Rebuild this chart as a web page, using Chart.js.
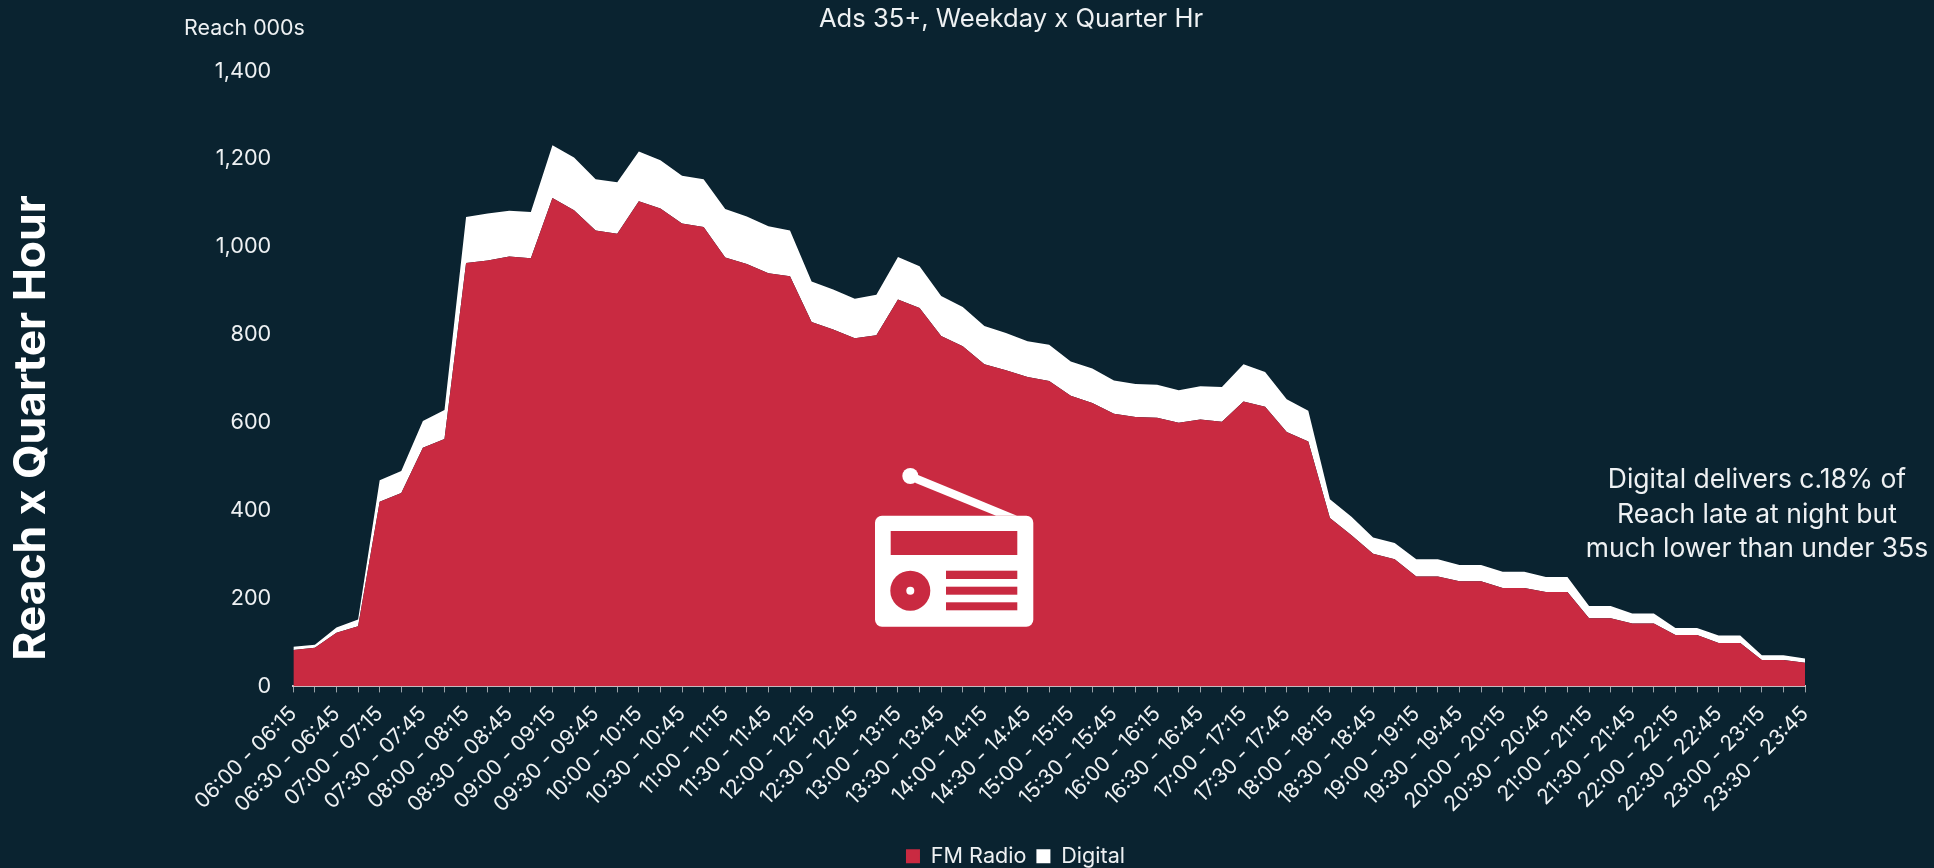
<!DOCTYPE html>
<html>
<head>
<meta charset="utf-8">
<title>Reach x Quarter Hour</title>
<script src="https://cdn.jsdelivr.net/npm/chart.js@4"></script>
<style>
html,body{margin:0;padding:0;background:#0a2330;}
#wrap{position:relative;width:1934px;height:868px;}
</style>
</head>
<body>
<div id="wrap"><canvas id="c"></canvas></div>
<script>
const starts = ["06:00","06:15","06:30","06:45","07:00","07:15","07:30","07:45","08:00","08:15","08:30","08:45","09:00","09:15","09:30","09:45","10:00","10:15","10:30","10:45","11:00","11:15","11:30","11:45","12:00","12:15","12:30","12:45","13:00","13:15","13:30","13:45","14:00","14:15","14:30","14:45","15:00","15:15","15:30","15:45","16:00","16:15","16:30","16:45","17:00","17:15","17:30","17:45","18:00","18:15","18:30","18:45","19:00","19:15","19:30","19:45","20:00","20:15","20:30","20:45","21:00","21:15","21:30","21:45","22:00","22:15","22:30","22:45","23:00","23:15","23:30"];
const ends = ["06:15","06:30","06:45","07:00","07:15","07:30","07:45","08:00","08:15","08:30","08:45","09:00","09:15","09:30","09:45","10:00","10:15","10:30","10:45","11:00","11:15","11:30","11:45","12:00","12:15","12:30","12:45","13:00","13:15","13:30","13:45","14:00","14:15","14:30","14:45","15:00","15:15","15:30","15:45","16:00","16:15","16:30","16:45","17:00","17:15","17:30","17:45","18:00","18:15","18:30","18:45","19:00","19:15","19:30","19:45","20:00","20:15","20:30","20:45","21:00","21:15","21:30","21:45","22:00","22:15","22:30","22:45","23:00","23:15","23:30","23:45"];
const categories = starts.map((s,i)=>s+" - "+ends[i]);
const fmRadio = [83,88,122,137,420,440,543,563,963,969,978,974,1111,1083,1037,1030,1104,1087,1053,1045,976,961,940,933,829,812,792,799,880,861,797,774,733,719,704,695,661,645,620,613,611,600,607,602,648,636,579,557,383,344,302,289,250,250,239,239,224,224,215,215,155,155,143,143,117,117,99,99,60,60,54];
const digital = [7,7,12,15,49,50,61,66,105,107,104,105,120,120,117,117,113,110,109,109,110,108,107,104,92,91,90,92,97,95,91,89,87,85,81,82,78,78,76,75,75,74,76,79,85,79,74,70,43,42,37,37,39,39,37,37,37,37,34,34,28,28,23,23,16,16,17,17,11,11,9.5];
const seriesNames = ["FM Radio","Digital"];
const chartTitle = "Ads 35+, Weekday x Quarter Hr";
const yUnit = "Reach 000s";
const sideTitle = "Reach x Quarter Hour";
const noteLines = ["Digital delivers c.18% of","Reach late at night but","much lower than under 35s"];

const RED="#c92a41", WHITE="#ffffff", TXT="#eef1f3";
const FONT="Inter, 'Noto Sans', sans-serif";

const overlay = {
  id:"overlay",
  afterLayout(chart){
    if(chart.titleBlock) chart.titleBlock.left = 217;
    if(chart.legend){ chart.legend.left = 226; chart.legend.top += 9; }
  },
  afterDraw(chart){
    const c=chart.ctx; c.save();
    c.fillStyle=TXT; c.textAlign="center"; c.textBaseline="middle";
    c.font="21.4px "+FONT; c.fillText(yUnit,244.5,29);
    c.font="26.5px "+FONT;
    noteLines.forEach((t,i)=>c.fillText(t,1757,480+i*34.6));
    c.save(); c.translate(32,428); c.rotate(-Math.PI/2);
    c.fillStyle=WHITE; c.font="bold 44.4px "+FONT; c.fillText(sideTitle,0,0); c.restore();
    // radio pictogram
    c.fillStyle=WHITE;
    c.beginPath(); c.roundRect(875,515.7,158.3,111,7); c.fill();
    c.beginPath(); c.arc(910.3,476,8,0,Math.PI*2); c.fill();
    c.beginPath(); c.moveTo(918,475); c.lineTo(1017,515.7); c.lineTo(996,515.7); c.lineTo(915,482.7); c.closePath(); c.fill();
    c.fillStyle=RED;
    c.fillRect(890.7,531,126.6,24);
    c.fillRect(946,570.7,71.3,8.3);
    c.fillRect(946,586.7,71.3,8);
    c.fillRect(946,602.3,71.3,8);
    c.beginPath(); c.arc(910.3,590.7,20,0,Math.PI*2); c.fill();
    c.fillStyle=WHITE;
    c.beginPath(); c.arc(910.3,590.7,4,0,Math.PI*2); c.fill();
    c.restore();
  }
};

new Chart(document.getElementById("c"),{
  type:"line",
  data:{labels:categories,datasets:[
    {label:seriesNames[0],data:fmRadio,backgroundColor:RED,borderColor:RED,borderWidth:0,pointRadius:0,tension:0,fill:"origin",stack:"a"},
    {label:seriesNames[1],data:digital,backgroundColor:WHITE,borderColor:WHITE,borderWidth:0,pointRadius:0,tension:0,fill:"-1",stack:"a"}
  ]},
  options:{
    responsive:true,maintainAspectRatio:false,animation:false,
    layout:{padding:{left:0,right:129,top:0,bottom:0}},
    plugins:{
      title:{display:true,text:chartTitle,color:TXT,font:{family:FONT,size:25.6,weight:"normal"},padding:{top:4,bottom:36.3}},
      legend:{position:"bottom",labels:{color:TXT,font:{family:FONT,size:21.6},boxWidth:14,boxHeight:14,padding:10}},
      tooltip:{enabled:false}
    },
    scales:{
      x:{
        type:"category",offset:false,
        grid:{display:true,drawOnChartArea:false,drawTicks:true,tickLength:6,color:"#9aa3a9"},
        border:{display:true,color:"#c9cdd0",width:2},
        ticks:{autoSkip:false,minRotation:45,maxRotation:45,color:TXT,padding:9,font:{family:FONT,size:21},
          callback(v,i){return i%2===0?this.getLabelForValue(v):"";}},
        afterFit(s){s.height=140;}
      },
      y:{
        stacked:true,min:0,max:1400,
        grid:{display:false,drawTicks:false},
        border:{display:false},
        ticks:{stepSize:200,color:TXT,padding:22,font:{family:FONT,size:21.7},callback:v=>v.toLocaleString("en-US")},
        afterFit(s){s.width=293.3;}
      }
    }
  },
  plugins:[overlay]
});
</script>
</body>
</html>
